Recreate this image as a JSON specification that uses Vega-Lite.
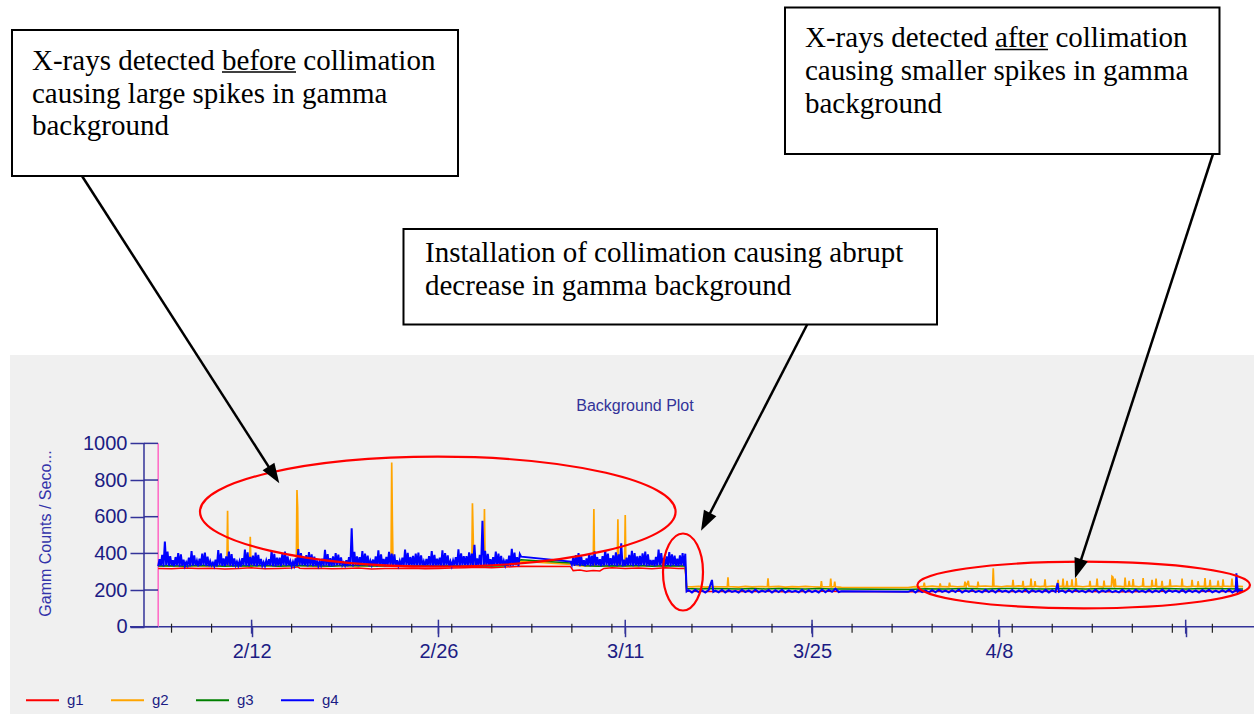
{
"$schema": "https://vega.github.io/schema/vega-lite/v6.json",
"width": 1254, "height": 714, "padding": 0, "autosize": {"type": "none"},
"background": "#ffffff",
"config": {"view": {"stroke": null}, "font": "Liberation Sans"},
"title": {"text": "Background Plot", "frame": "group", "anchor": "middle", "offset": -414, "dx": 8, "font": "Liberation Sans", "fontSize": 16, "fontWeight": "normal", "color": "#333399", "zindex": 1},
"datasets": {
"panel": [{"day": 24.894, "day2": 119, "value": 1482.0, "value2": -500}],
"axislines": [{"day": 34.936, "day2": 34.936, "value": 0, "value2": 1000}, {"day": 33.887, "day2": 119, "value": 0, "value2": 0}],
"minorticks": [{"day":37,"value":0},{"day":40,"value":0},{"day":43,"value":0},{"day":46,"value":0},{"day":49,"value":0},{"day":52,"value":0},{"day":55,"value":0},{"day":58,"value":0},{"day":61,"value":0},{"day":64,"value":0},{"day":67,"value":0},{"day":70,"value":0},{"day":73,"value":0},{"day":76,"value":0},{"day":79,"value":0},{"day":82,"value":0},{"day":85,"value":0},{"day":88,"value":0},{"day":91,"value":0},{"day":94,"value":0},{"day":97,"value":0},{"day":100,"value":0},{"day":103,"value":0},{"day":106,"value":0},{"day":109,"value":0},{"day":112,"value":0},{"day":115,"value":0}],
"majorticks": [{"day":43,"value":0},{"day":57,"value":0},{"day":71,"value":0},{"day":85,"value":0},{"day":99,"value":0},{"day":113,"value":0}],
"yticks": [{"day":35.461,"value":0},{"day":35.461,"value":200},{"day":35.461,"value":400},{"day":35.461,"value":600},{"day":35.461,"value":800},{"day":35.461,"value":1000}],
"g1": [{"day":36,"value":318},{"day":37,"value":316},{"day":38,"value":320},{"day":39,"value":317},{"day":40,"value":319},{"day":41,"value":315},{"day":42,"value":318},{"day":43,"value":321},{"day":44,"value":316},{"day":45,"value":318},{"day":46,"value":320},{"day":46.45,"value":327},{"day":46.6,"value":319},{"day":47,"value":317},{"day":48,"value":319},{"day":49,"value":316},{"day":50,"value":318},{"day":51,"value":320},{"day":52,"value":315},{"day":53,"value":318},{"day":54,"value":317},{"day":55,"value":319},{"day":56,"value":316},{"day":57,"value":318},{"day":58,"value":320},{"day":59,"value":322},{"day":60,"value":324},{"day":61,"value":321},{"day":62,"value":325},{"day":63.2,"value":330},{"day":66.9,"value":328},{"day":67.1,"value":306},{"day":67.6,"value":309},{"day":68.1,"value":303},{"day":68.6,"value":307},{"day":69.1,"value":304},{"day":69.4,"value":318},{"day":70,"value":321},{"day":71,"value":317},{"day":72,"value":320},{"day":73,"value":316},{"day":74,"value":321},{"day":75,"value":318},{"day":75.5,"value":319},{"day":75.6,"value":193},{"day":77,"value":192},{"day":80,"value":194},{"day":83,"value":191},{"day":86,"value":193},{"day":87.2,"value":192},{"day":92.2,"value":191},{"day":96,"value":193},{"day":100,"value":192},{"day":104,"value":194},{"day":108,"value":191},{"day":112,"value":193},{"day":117.3,"value":192}],
"g2": [{"day":36,"value":333},{"day":37,"value":331},{"day":38,"value":334},{"day":39,"value":332},{"day":40,"value":333},{"day":41,"value":331},{"day":41.15,"value":334},{"day":41.2,"value":633},{"day":41.25,"value":332},{"day":42,"value":333},{"day":42.85,"value":331},{"day":42.9,"value":491},{"day":42.95,"value":333},{"day":44,"value":332},{"day":45,"value":334},{"day":46,"value":331},{"day":46.35,"value":333},{"day":46.4,"value":746},{"day":46.45,"value":652},{"day":46.5,"value":335},{"day":47,"value":332},{"day":48,"value":333},{"day":49,"value":331},{"day":50,"value":334},{"day":51,"value":332},{"day":52,"value":333},{"day":53,"value":331},{"day":53.45,"value":333},{"day":53.5,"value":895},{"day":53.55,"value":568},{"day":53.6,"value":334},{"day":54,"value":332},{"day":55,"value":333},{"day":56,"value":331},{"day":57,"value":334},{"day":58,"value":332},{"day":59,"value":333},{"day":59.5,"value":332},{"day":59.55,"value":673},{"day":59.6,"value":512},{"day":59.65,"value":334},{"day":60,"value":331},{"day":60.4,"value":333},{"day":60.45,"value":642},{"day":60.5,"value":332},{"day":61,"value":334},{"day":62,"value":332},{"day":63.2,"value":357},{"day":66.9,"value":340},{"day":67.5,"value":333},{"day":68,"value":331},{"day":68.6,"value":334},{"day":68.65,"value":642},{"day":68.7,"value":332},{"day":69.5,"value":333},{"day":70.4,"value":331},{"day":70.45,"value":586},{"day":70.5,"value":334},{"day":70.95,"value":332},{"day":71,"value":609},{"day":71.05,"value":333},{"day":72,"value":331},{"day":73,"value":334},{"day":74,"value":332},{"day":75,"value":333},{"day":75.5,"value":334},{"day":75.6,"value":219},{"day":76,"value":217},{"day":76.5,"value":220},{"day":77,"value":216},{"day":77.5,"value":219},{"day":78,"value":218},{"day":78.65,"value":217},{"day":78.7,"value":270},{"day":78.75,"value":219},{"day":79.5,"value":216},{"day":80,"value":220},{"day":80.5,"value":217},{"day":81,"value":219},{"day":81.65,"value":218},{"day":81.7,"value":264},{"day":81.75,"value":217},{"day":82.5,"value":220},{"day":83,"value":216},{"day":83.5,"value":219},{"day":84,"value":217},{"day":84.5,"value":220},{"day":85,"value":218},{"day":85.65,"value":216},{"day":85.7,"value":249},{"day":85.75,"value":219},{"day":86.35,"value":218},{"day":86.4,"value":262},{"day":86.45,"value":217},{"day":86.65,"value":219},{"day":86.7,"value":246},{"day":86.75,"value":218},{"day":87.2,"value":214},{"day":92.2,"value":213},{"day":92.7,"value":219},{"day":93,"value":217},{"day":93.36,"value":220},{"day":93.41,"value":240},{"day":93.46,"value":218},{"day":94,"value":221},{"day":94.55,"value":218},{"day":94.6,"value":236},{"day":94.65,"value":220},{"day":95.25,"value":217},{"day":95.3,"value":240},{"day":95.35,"value":221},{"day":95.9,"value":218},{"day":96.41,"value":220},{"day":96.46,"value":246},{"day":96.55,"value":219},{"day":96.71,"value":250},{"day":96.76,"value":221},{"day":97.39,"value":218},{"day":97.44,"value":246},{"day":97.49,"value":220},{"day":98,"value":222},{"day":98.53,"value":219},{"day":98.58,"value":318},{"day":98.63,"value":221},{"day":99.2,"value":218},{"day":99.6,"value":222},{"day":100.01,"value":220},{"day":100.06,"value":255},{"day":100.11,"value":219},{"day":100.5,"value":223},{"day":100.76,"value":220},{"day":100.81,"value":250},{"day":100.86,"value":218},{"day":101.36,"value":221},{"day":101.41,"value":262},{"day":101.46,"value":219},{"day":101.66,"value":220},{"day":101.71,"value":248},{"day":101.76,"value":222},{"day":102.1,"value":219},{"day":102.41,"value":221},{"day":102.46,"value":258},{"day":102.51,"value":218},{"day":103,"value":222},{"day":103.39,"value":219},{"day":103.44,"value":255},{"day":103.49,"value":221},{"day":103.76,"value":220},{"day":103.81,"value":262},{"day":103.86,"value":218},{"day":104.06,"value":221},{"day":104.11,"value":250},{"day":104.16,"value":219},{"day":104.43,"value":222},{"day":104.48,"value":258},{"day":104.53,"value":220},{"day":104.73,"value":219},{"day":104.78,"value":265},{"day":104.83,"value":221},{"day":105.3,"value":218},{"day":105.78,"value":222},{"day":105.83,"value":250},{"day":105.88,"value":219},{"day":106.31,"value":221},{"day":106.36,"value":262},{"day":106.41,"value":220},{"day":106.83,"value":218},{"day":106.88,"value":252},{"day":106.93,"value":222},{"day":107.43,"value":220},{"day":107.48,"value":275},{"day":107.55,"value":270},{"day":107.6,"value":221},{"day":107.66,"value":219},{"day":107.71,"value":262},{"day":107.76,"value":222},{"day":108.1,"value":220},{"day":108.41,"value":218},{"day":108.46,"value":268},{"day":108.51,"value":221},{"day":108.71,"value":220},{"day":108.76,"value":250},{"day":108.81,"value":222},{"day":109.01,"value":219},{"day":109.06,"value":260},{"day":109.11,"value":221},{"day":109.5,"value":218},{"day":109.76,"value":222},{"day":109.81,"value":265},{"day":109.86,"value":220},{"day":110.43,"value":219},{"day":110.48,"value":255},{"day":110.53,"value":221},{"day":110.73,"value":222},{"day":110.78,"value":262},{"day":110.83,"value":219},{"day":111.18,"value":220},{"day":111.23,"value":250},{"day":111.28,"value":218},{"day":111.78,"value":221},{"day":111.83,"value":258},{"day":111.88,"value":220},{"day":112.3,"value":222},{"day":112.68,"value":219},{"day":112.73,"value":262},{"day":112.78,"value":221},{"day":113.1,"value":218},{"day":113.43,"value":220},{"day":113.48,"value":255},{"day":113.53,"value":222},{"day":113.88,"value":219},{"day":113.93,"value":248},{"day":113.98,"value":221},{"day":114.4,"value":220},{"day":114.45,"value":265},{"day":114.5,"value":218},{"day":114.78,"value":222},{"day":114.83,"value":255},{"day":114.88,"value":219},{"day":115.38,"value":221},{"day":115.43,"value":252},{"day":115.48,"value":220},{"day":115.75,"value":218},{"day":115.8,"value":258},{"day":115.85,"value":222},{"day":116.42,"value":219},{"day":116.47,"value":262},{"day":116.52,"value":221},{"day":117,"value":220},{"day":117.3,"value":219}],
"g3": [{"day":36,"value":331},{"day":37,"value":333},{"day":38,"value":330},{"day":39,"value":334},{"day":40,"value":332},{"day":41,"value":330},{"day":42,"value":333},{"day":43,"value":331},{"day":44,"value":334},{"day":45,"value":330},{"day":46,"value":332},{"day":47,"value":333},{"day":48,"value":331},{"day":49,"value":330},{"day":50,"value":334},{"day":51,"value":332},{"day":52,"value":331},{"day":53,"value":333},{"day":54,"value":330},{"day":55,"value":332},{"day":56,"value":334},{"day":57,"value":331},{"day":58,"value":333},{"day":59,"value":330},{"day":60,"value":332},{"day":61,"value":331},{"day":62,"value":333},{"day":63.2,"value":365},{"day":66.9,"value":347},{"day":68,"value":332},{"day":69,"value":330},{"day":70,"value":333},{"day":71,"value":331},{"day":72,"value":334},{"day":73,"value":330},{"day":74,"value":332},{"day":75.5,"value":331},{"day":75.6,"value":208},{"day":76.5,"value":206},{"day":77.5,"value":209},{"day":78.5,"value":207},{"day":79.5,"value":205},{"day":80.5,"value":208},{"day":81.5,"value":206},{"day":82.5,"value":209},{"day":83.5,"value":207},{"day":84.5,"value":205},{"day":85.5,"value":208},{"day":86.5,"value":206},{"day":87.2,"value":205},{"day":92.2,"value":203},{"day":93.5,"value":207},{"day":95,"value":205},{"day":96.5,"value":208},{"day":98,"value":206},{"day":99.5,"value":209},{"day":101,"value":207},{"day":102.5,"value":205},{"day":104,"value":208},{"day":105.5,"value":206},{"day":107,"value":209},{"day":108.5,"value":207},{"day":110,"value":205},{"day":111.5,"value":208},{"day":113,"value":206},{"day":114.5,"value":209},{"day":116,"value":207},{"day":117.3,"value":206}],
"g4": [
{"day":36,"value":330},{"day":36.1,"value":368},{"day":36.2,"value":333},{"day":36.3,"value":392},{"day":36.4,"value":329},{"day":36.5,"value":465},{"day":36.6,"value":336},{"day":36.7,"value":410},{"day":36.8,"value":331},{"day":36.9,"value":385},
{"day":37,"value":334},{"day":37.1,"value":362},{"day":37.2,"value":330},{"day":37.3,"value":380},{"day":37.4,"value":335},{"day":37.5,"value":401},{"day":37.6,"value":329},{"day":37.7,"value":395},{"day":37.8,"value":332},{"day":37.9,"value":366},
{"day":38,"value":331},{"day":38.1,"value":352},{"day":38.2,"value":336},{"day":38.3,"value":377},{"day":38.4,"value":330},{"day":38.5,"value":412},{"day":38.6,"value":333},{"day":38.7,"value":389},{"day":38.8,"value":335},{"day":38.9,"value":360},
{"day":39,"value":329},{"day":39.1,"value":371},{"day":39.2,"value":333},{"day":39.3,"value":398},{"day":39.4,"value":336},{"day":39.5,"value":404},{"day":39.6,"value":331},{"day":39.7,"value":382},{"day":39.8,"value":330},{"day":39.9,"value":357},
{"day":40,"value":335},{"day":40.1,"value":349},{"day":40.2,"value":331},{"day":40.3,"value":366},{"day":40.4,"value":329},{"day":40.5,"value":418},{"day":40.6,"value":334},{"day":40.7,"value":400},{"day":40.8,"value":332},{"day":40.9,"value":373},
{"day":41,"value":330},{"day":41.1,"value":383},{"day":41.2,"value":334},{"day":41.3,"value":410},{"day":41.4,"value":332},{"day":41.5,"value":396},{"day":41.6,"value":329},{"day":41.7,"value":372},{"day":41.8,"value":336},{"day":41.9,"value":355},
{"day":42,"value":333},{"day":42.1,"value":358},{"day":42.2,"value":329},{"day":42.3,"value":374},{"day":42.4,"value":335},{"day":42.5,"value":420},{"day":42.6,"value":331},{"day":42.7,"value":405},{"day":42.8,"value":330},{"day":42.9,"value":381},
{"day":43,"value":336},{"day":43.1,"value":387},{"day":43.2,"value":332},{"day":43.3,"value":404},{"day":43.4,"value":330},{"day":43.5,"value":392},{"day":43.6,"value":335},{"day":43.7,"value":369},{"day":43.8,"value":333},{"day":43.9,"value":352},
{"day":44,"value":331},{"day":44.1,"value":361},{"day":44.2,"value":335},{"day":44.3,"value":368},{"day":44.4,"value":333},{"day":44.5,"value":415},{"day":44.6,"value":330},{"day":44.7,"value":398},{"day":44.8,"value":329},{"day":44.9,"value":376},
{"day":45,"value":334},{"day":45.1,"value":376},{"day":45.2,"value":330},{"day":45.3,"value":396},{"day":45.4,"value":336},{"day":45.5,"value":410},{"day":45.6,"value":332},{"day":45.7,"value":384},{"day":45.8,"value":335},{"day":45.9,"value":358},
{"day":46,"value":330},{"day":46.1,"value":354},{"day":46.2,"value":333},{"day":46.3,"value":372},{"day":46.4,"value":331},{"day":46.5,"value":424},{"day":46.6,"value":336},{"day":46.7,"value":401},{"day":46.8,"value":334},{"day":46.9,"value":379},
{"day":47,"value":335},{"day":47.1,"value":390},{"day":47.2,"value":329},{"day":47.3,"value":407},{"day":47.4,"value":334},{"day":47.5,"value":394},{"day":47.6,"value":330},{"day":47.7,"value":382},{"day":47.8,"value":332},{"day":47.9,"value":361},
{"day":48,"value":332},{"day":48.1,"value":355},{"day":48.2,"value":336},{"day":48.3,"value":371},{"day":48.4,"value":330},{"day":48.5,"value":419},{"day":48.6,"value":333},{"day":48.7,"value":396},{"day":48.8,"value":331},{"day":48.9,"value":374},
{"day":49,"value":329},{"day":49.1,"value":384},{"day":49.2,"value":331},{"day":49.3,"value":401},{"day":49.4,"value":335},{"day":49.5,"value":393},{"day":49.6,"value":334},{"day":49.7,"value":378},{"day":49.8,"value":336},{"day":49.9,"value":350},
{"day":50,"value":334},{"day":50.1,"value":362},{"day":50.2,"value":330},{"day":50.3,"value":380},{"day":50.4,"value":332},{"day":50.5,"value":537},{"day":50.6,"value":329},{"day":50.7,"value":408},{"day":50.8,"value":335},{"day":50.9,"value":383},
{"day":51,"value":331},{"day":51.1,"value":379},{"day":51.2,"value":335},{"day":51.3,"value":412},{"day":51.4,"value":333},{"day":51.5,"value":399},{"day":51.6,"value":336},{"day":51.7,"value":388},{"day":51.8,"value":330},{"day":51.9,"value":359},
{"day":52,"value":336},{"day":52.1,"value":366},{"day":52.2,"value":332},{"day":52.3,"value":383},{"day":52.4,"value":329},{"day":52.5,"value":416},{"day":52.6,"value":331},{"day":52.7,"value":394},{"day":52.8,"value":334},{"day":52.9,"value":370},
{"day":53,"value":330},{"day":53.1,"value":381},{"day":53.2,"value":334},{"day":53.3,"value":408},{"day":53.4,"value":336},{"day":53.5,"value":398},{"day":53.6,"value":333},{"day":53.7,"value":395},{"day":53.8,"value":329},{"day":53.9,"value":362},
{"day":54,"value":333},{"day":54.1,"value":359},{"day":54.2,"value":331},{"day":54.3,"value":377},{"day":54.4,"value":330},{"day":54.5,"value":421},{"day":54.6,"value":335},{"day":54.7,"value":403},{"day":54.8,"value":332},{"day":54.9,"value":380},
{"day":55,"value":335},{"day":55.1,"value":386},{"day":55.2,"value":329},{"day":55.3,"value":399},{"day":55.4,"value":334},{"day":55.5,"value":404},{"day":55.6,"value":331},{"day":55.7,"value":389},{"day":55.8,"value":336},{"day":55.9,"value":357},
{"day":56,"value":330},{"day":56.1,"value":369},{"day":56.2,"value":336},{"day":56.3,"value":385},{"day":56.4,"value":332},{"day":56.5,"value":413},{"day":56.6,"value":330},{"day":56.7,"value":392},{"day":56.8,"value":333},{"day":56.9,"value":371},
{"day":57,"value":334},{"day":57.1,"value":377},{"day":57.2,"value":332},{"day":57.3,"value":417},{"day":57.4,"value":329},{"day":57.5,"value":401},{"day":57.6,"value":336},{"day":57.7,"value":389},{"day":57.8,"value":331},{"day":57.9,"value":356},
{"day":58,"value":331},{"day":58.1,"value":361},{"day":58.2,"value":335},{"day":58.3,"value":379},{"day":58.4,"value":333},{"day":58.5,"value":422},{"day":58.6,"value":330},{"day":58.7,"value":400},{"day":58.8,"value":334},{"day":58.9,"value":385},
{"day":59,"value":336},{"day":59.1,"value":385},{"day":59.2,"value":330},{"day":59.3,"value":405},{"day":59.4,"value":334},{"day":59.5,"value":398},{"day":59.6,"value":332},{"day":59.7,"value":446},{"day":59.8,"value":329},{"day":59.9,"value":372},
{"day":60,"value":333},{"day":60.1,"value":392},{"day":60.2,"value":331},{"day":60.3,"value":578},{"day":60.4,"value":336},{"day":60.5,"value":414},{"day":60.6,"value":330},{"day":60.7,"value":397},{"day":60.8,"value":335},{"day":60.9,"value":368},
{"day":61,"value":330},{"day":61.1,"value":380},{"day":61.2,"value":334},{"day":61.3,"value":409},{"day":61.4,"value":331},{"day":61.5,"value":398},{"day":61.6,"value":335},{"day":61.7,"value":386},{"day":61.8,"value":332},{"day":61.9,"value":360},
{"day":62,"value":335},{"day":62.1,"value":367},{"day":62.2,"value":332},{"day":62.3,"value":388},{"day":62.4,"value":330},{"day":62.5,"value":425},{"day":62.6,"value":333},{"day":62.7,"value":404},{"day":62.8,"value":336},{"day":62.9,"value":379},
{"day":63,"value":331},{"day":63.1,"value":396},{"day":63.2,"value":382},
{"day":66.9,"value":355},
{"day":67,"value":338},{"day":67.1,"value":376},{"day":67.2,"value":332},{"day":67.3,"value":391},{"day":67.4,"value":335},{"day":67.5,"value":402},{"day":67.6,"value":330},{"day":67.7,"value":384},{"day":67.8,"value":334},{"day":67.9,"value":362},
{"day":68,"value":331},{"day":68.1,"value":372},{"day":68.2,"value":336},{"day":68.3,"value":396},{"day":68.4,"value":330},{"day":68.5,"value":388},{"day":68.6,"value":333},{"day":68.7,"value":411},{"day":68.8,"value":335},{"day":68.9,"value":380},
{"day":69,"value":334},{"day":69.1,"value":368},{"day":69.2,"value":330},{"day":69.3,"value":385},{"day":69.4,"value":333},{"day":69.5,"value":418},{"day":69.6,"value":336},{"day":69.7,"value":399},{"day":69.8,"value":331},{"day":69.9,"value":374},
{"day":70,"value":336},{"day":70.1,"value":389},{"day":70.2,"value":333},{"day":70.3,"value":405},{"day":70.4,"value":331},{"day":70.5,"value":395},{"day":70.6,"value":335},{"day":70.7,"value":455},{"day":70.8,"value":330},{"day":70.9,"value":366},
{"day":71,"value":332},{"day":71.1,"value":376},{"day":71.2,"value":335},{"day":71.3,"value":392},{"day":71.4,"value":334},{"day":71.5,"value":414},{"day":71.6,"value":330},{"day":71.7,"value":401},{"day":71.8,"value":336},{"day":71.9,"value":383},
{"day":72,"value":330},{"day":72.1,"value":386},{"day":72.2,"value":334},{"day":72.3,"value":400},{"day":72.4,"value":336},{"day":72.5,"value":409},{"day":72.6,"value":331},{"day":72.7,"value":395},{"day":72.8,"value":333},{"day":72.9,"value":364},
{"day":73,"value":335},{"day":73.1,"value":364},{"day":73.2,"value":331},{"day":73.3,"value":381},{"day":73.4,"value":333},{"day":73.5,"value":420},{"day":73.6,"value":336},{"day":73.7,"value":402},{"day":73.8,"value":329},{"day":73.9,"value":375},
{"day":74,"value":333},{"day":74.1,"value":383},{"day":74.2,"value":336},{"day":74.3,"value":407},{"day":74.4,"value":330},{"day":74.5,"value":394},{"day":74.6,"value":334},{"day":74.7,"value":388},{"day":74.8,"value":332},{"day":74.9,"value":371},
{"day":75,"value":331},{"day":75.1,"value":389},{"day":75.2,"value":335},{"day":75.3,"value":402},{"day":75.4,"value":332},{"day":75.5,"value":398},
{"day":75.6,"value":192},{"day":75.75,"value":199},{"day":76,"value":187},{"day":76.25,"value":201},{"day":76.5,"value":189},{"day":76.75,"value":198},{"day":77,"value":186},{"day":77.25,"value":200},{"day":77.5,"value":255},{"day":77.6,"value":190},{"day":77.75,"value":197},{"day":78,"value":188},{"day":78.25,"value":202},{"day":78.5,"value":187},{"day":78.75,"value":199},{"day":79,"value":190},{"day":79.25,"value":196},{"day":79.5,"value":186},{"day":79.75,"value":201},{"day":80,"value":189},{"day":80.25,"value":198},{"day":80.5,"value":187},{"day":80.75,"value":203},{"day":81,"value":188},{"day":81.25,"value":197},{"day":81.5,"value":190},{"day":81.75,"value":200},{"day":82,"value":186},{"day":82.25,"value":199},{"day":82.5,"value":189},{"day":82.75,"value":202},{"day":83,"value":187},{"day":83.25,"value":198},{"day":83.5,"value":190},{"day":83.75,"value":196},{"day":84,"value":188},{"day":84.25,"value":201},{"day":84.5,"value":186},{"day":84.75,"value":199},{"day":85,"value":189},{"day":85.25,"value":197},{"day":85.5,"value":187},{"day":85.75,"value":203},{"day":86,"value":188},{"day":86.25,"value":200},{"day":86.5,"value":190},{"day":86.75,"value":207},{"day":87,"value":189},{"day":87.2,"value":193},
{"day":92.2,"value":190},{"day":92.5,"value":199},{"day":92.75,"value":187},{"day":93,"value":201},{"day":93.25,"value":189},{"day":93.5,"value":198},{"day":93.75,"value":186},{"day":94,"value":200},{"day":94.25,"value":188},{"day":94.5,"value":202},{"day":94.75,"value":190},{"day":95,"value":197},{"day":95.25,"value":187},{"day":95.5,"value":199},{"day":95.75,"value":189},{"day":96,"value":203},{"day":96.25,"value":186},{"day":96.5,"value":198},{"day":96.75,"value":190},{"day":97,"value":200},{"day":97.25,"value":188},{"day":97.5,"value":196},{"day":97.75,"value":187},{"day":98,"value":201},{"day":98.25,"value":189},{"day":98.5,"value":199},{"day":98.75,"value":186},{"day":99,"value":202},{"day":99.25,"value":190},{"day":99.5,"value":197},{"day":99.75,"value":188},{"day":100,"value":200},{"day":100.25,"value":187},{"day":100.5,"value":198},{"day":100.75,"value":189},{"day":101,"value":203},{"day":101.25,"value":186},{"day":101.5,"value":199},{"day":101.75,"value":190},{"day":102,"value":197},{"day":102.25,"value":188},{"day":102.5,"value":201},{"day":102.75,"value":187},{"day":103,"value":199},{"day":103.25,"value":189},{"day":103.4,"value":238},{"day":103.5,"value":190},{"day":103.75,"value":198},{"day":104,"value":186},{"day":104.25,"value":200},{"day":104.5,"value":188},{"day":104.75,"value":202},{"day":105,"value":190},{"day":105.25,"value":197},{"day":105.5,"value":187},{"day":105.75,"value":199},{"day":106,"value":189},{"day":106.25,"value":203},{"day":106.5,"value":186},{"day":106.75,"value":198},{"day":107,"value":190},{"day":107.25,"value":200},{"day":107.5,"value":188},{"day":107.75,"value":196},{"day":108,"value":187},{"day":108.25,"value":201},{"day":108.5,"value":189},{"day":108.75,"value":199},{"day":109,"value":186},{"day":109.25,"value":202},{"day":109.5,"value":190},{"day":109.75,"value":197},{"day":110,"value":188},{"day":110.25,"value":200},{"day":110.5,"value":187},{"day":110.75,"value":198},{"day":111,"value":189},{"day":111.25,"value":203},{"day":111.5,"value":186},{"day":111.75,"value":199},{"day":112,"value":190},{"day":112.25,"value":197},{"day":112.5,"value":188},{"day":112.75,"value":201},{"day":113,"value":187},{"day":113.25,"value":199},{"day":113.5,"value":189},{"day":113.75,"value":198},{"day":114,"value":186},{"day":114.25,"value":200},{"day":114.5,"value":190},{"day":114.75,"value":202},{"day":115,"value":188},{"day":115.25,"value":197},{"day":115.5,"value":187},{"day":115.75,"value":199},{"day":116,"value":189},{"day":116.25,"value":203},{"day":116.5,"value":186},{"day":116.75,"value":198},{"day":116.8,"value":291},{"day":116.9,"value":192},{"day":117,"value":200},{"day":117.3,"value":195}
],
"boxes": [{"day":25.044,"day2":58.468,"value":3254.7,"value2":2458.4},{"day":54.383,"day2":94.364,"value":2169.3,"value2":1648.4},{"day":82.973,"day2":115.534,"value":3377.5,"value2":2578.4}],
"notes": [{"day":26.543,"value":3036.5,"label":"X-rays detected before collimation"},{"day":26.543,"value":2856.5,"label":"causing large spikes in gamma"},{"day":26.543,"value":2679.3,"label":"background"},{"day":55.994,"value":1989.3,"label":"Installation of collimation causing abrupt"},{"day":55.994,"value":1809.3,"label":"decrease in gamma background"},{"day":84.472,"value":3162.0,"label":"X-rays detected after collimation"},{"day":84.472,"value":2982.0,"label":"causing smaller spikes in gamma"},{"day":84.472,"value":2804.7,"label":"background"}],
"underlines": [{"day":40.782,"day2":46.327,"value":3025.6,"value2":3025.6},{"day":98.71,"day2":102.682,"value":3148.4,"value2":3148.4}],
"arrows": [{"day":30.29,"value":2458.4,"day2":44.671,"value2":828.0},{"day":84.644,"value":1649.5,"day2":77.023,"value2":572.2},{"day":115.047,"value":2578.4,"day2":104.938,"value2":315.8}]
},
"encoding": {
"x": {"field": "day", "type": "quantitative", "scale": {"domain": [24.145, 118.12], "nice": false, "zero": false},
 "axis": {"orient": "bottom", "offset": -87.3, "title": null, "values": [43,57,71,85,99,113], "domain": false, "grid": false, "tickSize": 10, "tickWidth": 1.5, "tickColor": "#333399", "labelExpr": "datum.value == 113 ? '' : timeFormat(datetime(2012, 0, datum.value), '%-m/%-d')", "labelFont": "Liberation Sans", "labelFontSize": 20, "labelColor": "#1c1c84", "labelPadding": 5, "labelOverlap": false, "labelFlush": false, "zindex": 1}},
"y": {"field": "value", "type": "quantitative", "scale": {"domain": [-476.2, 3418.4], "nice": false, "zero": false},
 "axis": {"orient": "left", "offset": -144, "title": "Gamm Counts / Seco...", "values": [0,200,400,600,800,1000], "format": "d", "domain": false, "grid": false, "tickSize": 14, "tickWidth": 1.5, "tickColor": "#333399", "labelFont": "Liberation Sans", "labelFontSize": 20, "labelColor": "#1c1c84", "labelPadding": 3, "labelOverlap": false, "titleFont": "Liberation Sans", "titleFontSize": 16, "titleFontWeight": "normal", "titleColor": "#3333aa", "titleX": -99, "titleY": 533, "titleAngle": 270, "titleAlign": "center", "titleBaseline": "middle", "zindex": 1}}
},
"layer": [
{"data": {"name": "panel"}, "mark": {"type": "rect", "color": "#f0f0f0"}, "encoding": {"x2": {"field": "day2"}, "y2": {"field": "value2"}}},
{"data": {"name": "axislines"}, "mark": {"type": "rule", "color": "#333399", "strokeWidth": 1.5}, "encoding": {"x2": {"field": "day2"}, "y2": {"field": "value2"}}},
{"data": {"values": [{"day": 36, "day2": 36, "value": 0, "value2": 1000}]}, "mark": {"type": "rule", "color": "#ff66c4", "strokeWidth": 1.5}, "encoding": {"x2": {"field": "day2"}, "y2": {"field": "value2"}}},
{"data": {"name": "minorticks"}, "mark": {"type": "tick", "orient": "vertical", "size": 9, "thickness": 1.2, "color": "#222222", "opacity": 1, "yOffset": 1.5}, "encoding": {}},
{"data": {"name": "majorticks"}, "mark": {"type": "tick", "orient": "vertical", "size": 14, "thickness": 1.5, "color": "#333399", "opacity": 1}, "encoding": {}},
{"data": {"name": "yticks"}, "mark": {"type": "tick", "orient": "horizontal", "size": 14, "thickness": 1.5, "color": "#333399", "opacity": 1}, "encoding": {}},
{"data": {"name": "g1"}, "mark": {"type": "line", "strokeWidth": 1.5}, "encoding": {"color": {"datum": "g1", "type": "nominal", "scale": {"domain": ["g1","g2","g3","g4"], "range": ["#ff0000","#ffa500","#008000","#0000ff"]}, "legend": {"orient": "none", "legendX": 25, "legendY": 682.5, "direction": "horizontal", "title": null, "symbolType": "stroke", "symbolSize": 1089, "symbolStrokeWidth": 2, "labelFont": "Liberation Sans", "labelFontSize": 15, "labelColor": "#1c1c84", "labelOffset": 7, "columnPadding": 23, "padding": 0, "zindex": 1}}}},
{"data": {"name": "g2"}, "mark": {"type": "line", "strokeWidth": 1.7}, "encoding": {"color": {"datum": "g2", "type": "nominal"}}},
{"data": {"name": "g3"}, "mark": {"type": "line", "strokeWidth": 1.5}, "encoding": {"color": {"datum": "g3", "type": "nominal"}}},
{"data": {"name": "g4"}, "mark": {"type": "line", "strokeWidth": 2}, "encoding": {"color": {"datum": "g4", "type": "nominal"}}},
{"data": {"values": [{"day": 56.953, "value": 627.3}]}, "mark": {"type": "point", "shape": "M -1 0 A 1 0.2313 0 1 0 1 0 A 1 0.2313 0 1 0 -1 0 Z", "size": 226195, "filled": false, "color": "#ff0000", "strokeWidth": 2.2, "opacity": 1}, "encoding": {}},
{"data": {"values": [{"day": 75.329, "value": 298.4}]}, "mark": {"type": "point", "shape": "M 0 -1 A 0.5195 1 0 1 0 0 1 A 0.5195 1 0 1 0 0 -1 Z", "size": 5929, "filled": false, "color": "#ff0000", "strokeWidth": 2.2, "opacity": 1}, "encoding": {}},
{"data": {"values": [{"day": 105.358, "value": 227.5}]}, "mark": {"type": "point", "shape": "M -1 0 A 1 0.1401 0 1 0 1 0 A 1 0.1401 0 1 0 -1 0 Z", "size": 110623, "filled": false, "color": "#ff0000", "strokeWidth": 2.2, "opacity": 1}, "encoding": {}},
{"data": {"name": "boxes"}, "mark": {"type": "rect", "fill": "#ffffff", "stroke": "#000000", "strokeWidth": 2}, "encoding": {"x2": {"field": "day2"}, "y2": {"field": "value2"}}},
{"data": {"name": "notes"}, "mark": {"type": "text", "align": "left", "baseline": "alphabetic", "font": "Liberation Serif", "fontSize": 29, "color": "#000000"}, "encoding": {"text": {"field": "label"}}},
{"data": {"name": "underlines"}, "mark": {"type": "rule", "color": "#000000", "strokeWidth": 1.5}, "encoding": {"x2": {"field": "day2"}, "y2": {"field": "value2"}}},
{"data": {"name": "arrows"}, "mark": {"type": "rule", "color": "#000000", "strokeWidth": 2.5}, "encoding": {"x2": {"field": "day2"}, "y2": {"field": "value2"}}},
{"data": {"values": [{"day": 45.076, "value": 782.2}]}, "mark": {"type": "point", "shape": "M 0 0 L -0.35 1 L 0.35 1 Z", "size": 1600, "filled": true, "color": "#000000", "opacity": 1, "angle": 147.3}, "encoding": {}},
{"data": {"values": [{"day": 76.678, "value": 523.6}]}, "mark": {"type": "point", "shape": "M 0 0 L -0.35 1 L 0.35 1 Z", "size": 1600, "filled": true, "color": "#000000", "opacity": 1, "angle": 207.25}, "encoding": {}},
{"data": {"values": [{"day": 104.706, "value": 264.0}]}, "mark": {"type": "point", "shape": "M 0 0 L -0.35 1 L 0.35 1 Z", "size": 1600, "filled": true, "color": "#000000", "opacity": 1, "angle": 198}, "encoding": {}}
]
}
